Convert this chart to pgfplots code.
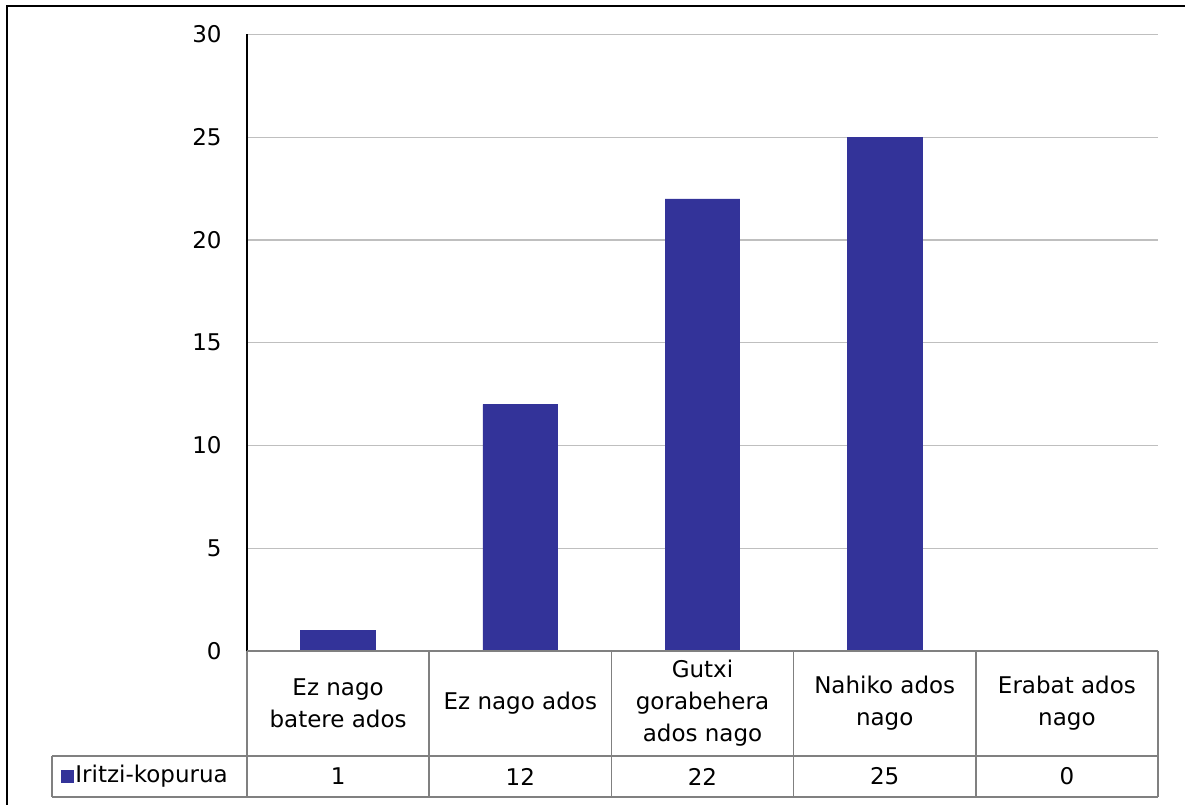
\documentclass[border=0pt]{standalone}
\usepackage{pgfplots}
\usepackage{pgfplotstable}
\pgfplotsset{compat=1.18}
\usepackage{fontspec}
\setmainfont{DejaVu Sans}
\definecolor{barblue}{HTML}{333399}
\definecolor{gridgray}{HTML}{BFBFBF}
\definecolor{tabgray}{HTML}{808080}
\pgfplotstableread{
x v
0 1
1 12
2 22
3 25
4 0
}\data
\newcommand{\cf}{\fontsize{11.5bp}{16bp}\selectfont}
\begin{document}
\begin{tikzpicture}
\useasboundingbox (-123.5bp,-77bp) rectangle (469bp,325.5bp);
% outer chart border (top and left visible)
\draw[black, line width=1bp] (-120bp,-77bp) -- (-120bp,322.5bp) -- (469bp,322.5bp);
\begin{axis}[
  at={(0,0)}, anchor=south west,
  scale only axis,
  width=455.5bp, height=308.25bp,
  xmin=-0.5, xmax=4.5, ymin=0, ymax=30,
  clip=false,
  axis line style={draw=none},
  major tick length=0pt,
  ytick={0,5,10,15,20,25,30},
  ymajorgrids,
  major grid style={gridgray, line width=0.6bp},
  xtick={0,1,2,3,4},
  xticklabels={{Ez nago\\batere ados},{Ez nago ados},{Gutxi\\gorabehera\\ados nago},{Nahiko ados\\nago},{Erabat ados\\nago}},
  xticklabel style={font=\cf, align=center, anchor=center, inner sep=0pt, yshift=-26.25bp},
  yticklabel style={font=\cf, anchor=east, inner sep=0pt, xshift=-12.5bp},
  /pgf/number format/assume math mode=true,
]
\addplot[ybar, bar width=0.41, bar shift=0pt, fill=barblue, draw=barblue] table[x=x, y=v] {\data};
\addplot[draw=none, nodes near coords, point meta=explicit,
  nodes near coords style={anchor=center, font=\cf, inner sep=0pt},
  /pgf/number format/assume math mode=true]
  table[x=x, y expr=-6.107, meta=v] {\data};
\end{axis}
% left axis line
\draw[black, line width=0.6bp] (0,0) -- (0,308.25bp);
% data table lines
\begin{scope}[tabgray, line width=0.8bp]
\draw (0,0) -- (455.5bp,0);
\draw (-97.5bp,-52.5bp) -- (455.5bp,-52.5bp);
\draw (-97.5bp,-73bp) -- (455.5bp,-73bp);
\draw (-97.5bp,-52.5bp) -- (-97.5bp,-73bp);
\foreach \xx in {0,91.1,182.2,273.3,364.4,455.5} {
  \draw (\xx bp,0) -- (\xx bp,-73bp);
}
\end{scope}
\node[anchor=west, inner sep=0pt, font=\cf] at (-93bp,-62.75bp)
  {\textcolor{barblue}{\rule{6.5bp}{6.5bp}}\hspace{0.5bp}Iritzi-kopurua};
\end{tikzpicture}
\end{document}
